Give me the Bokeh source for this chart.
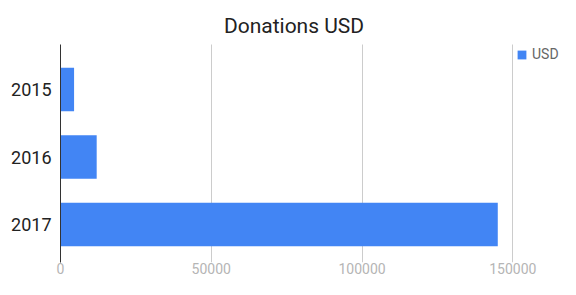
from bokeh.plotting import figure
from bokeh.models import Range1d, FixedTicker, NumeralTickFormatter, Legend, LegendItem, ColumnDataSource, Label, Grid
from bokeh.embed import file_html
from bokeh.resources import INLINE

years = ["2015", "2016", "2017"]
usd = [4500, 12000, 145000]
x_ticks = [0, 50000, 100000, 150000]
series_name = "USD"
title_text = "Donations USD"

# layout constants (pixels / category units)
FRAME_W = 500
FRAME_H = 262
STEP_PX = 67.5                      # pixels per category
FIRST_PX = 89.0                     # pixel centre of first category from top
AREA_TOP_PX = 44.0                  # top of plotting area (gridlines / axis line)
y_top = -FIRST_PX / STEP_PX
y_bottom = y_top + FRAME_H / STEP_PX
area_top = y_top + AREA_TOP_PX / STEP_PX

idx = list(range(len(years)))
src = ColumnDataSource(data=dict(idx=idx, usd=usd))

p = figure(frame_width=FRAME_W, frame_height=FRAME_H, output_backend="svg", toolbar_location=None,
           y_range=Range1d(y_bottom, y_top), x_range=Range1d(0, 165800),
           min_border_left=60, min_border_right=0, min_border_top=0, min_border_bottom=0)

r = p.hbar(y="idx", right="usd", left=0, height=0.645, source=src,
           fill_color="#4285f4", line_color=None)

p.outline_line_color = None
p.background_fill_color = "white"
p.border_fill_color = "white"

p.ygrid.grid_line_color = None
p.xgrid.ticker = FixedTicker(ticks=x_ticks)
if "cross_bounds" in Grid.properties():
    p.xgrid.grid_line_color = "#cccccc"
    p.xgrid.cross_bounds = (area_top, y_bottom)
else:
    p.xgrid.grid_line_color = None
    p.segment(x0=x_ticks[1:], x1=x_ticks[1:], y0=[area_top] * (len(x_ticks) - 1),
              y1=[y_bottom] * (len(x_ticks) - 1), line_color="#cccccc", line_width=1)

p.xaxis.ticker = FixedTicker(ticks=x_ticks)
p.xaxis.formatter = NumeralTickFormatter(format="0")
p.xaxis.axis_line_color = None
p.xaxis.major_tick_line_color = None
p.xaxis.minor_tick_line_color = None
p.xaxis.major_tick_out = 0
p.xaxis.major_tick_in = 0
p.xaxis.minor_tick_out = 0
p.xaxis.major_label_text_font = "Roboto"
p.xaxis.major_label_text_font_size = "14px"
p.xaxis.major_label_text_color = "#b5b5b5"
p.xaxis.major_label_standoff = 0

p.yaxis.ticker = FixedTicker(ticks=idx)
p.yaxis.major_label_overrides = {i: y for i, y in zip(idx, years)}
p.yaxis.bounds = (area_top, y_bottom)
p.yaxis.axis_line_color = "#333333"
p.yaxis.axis_line_width = 1
p.yaxis.major_tick_line_color = None
p.yaxis.minor_tick_line_color = None
p.yaxis.major_tick_out = 0
p.yaxis.major_tick_in = 0
p.yaxis.minor_tick_out = 0
p.yaxis.major_label_text_font = "Roboto"
p.yaxis.major_label_text_font_size = "18px"
p.yaxis.major_label_text_color = "#222222"
p.yaxis.major_label_standoff = 9

title = Label(x=233.5, y=FRAME_H - 25, x_units="screen", y_units="screen",
              text=title_text, text_align="center", text_baseline="alphabetic",
              text_font="Roboto", text_font_size="21px", text_color="#222222")
p.add_layout(title)

legend = Legend(items=[LegendItem(label=series_name, renderers=[r])],
                location=(456, FRAME_H - 62), padding=0, margin=0, spacing=0,
                glyph_width=11, glyph_height=11, label_height=11, label_standoff=5,
                label_text_font="Roboto", label_text_font_size="14px",
                label_text_color="#666666", border_line_color=None,
                background_fill_alpha=0)
p.add_layout(legend)

open("out.html", "w").write(file_html(p, INLINE))
